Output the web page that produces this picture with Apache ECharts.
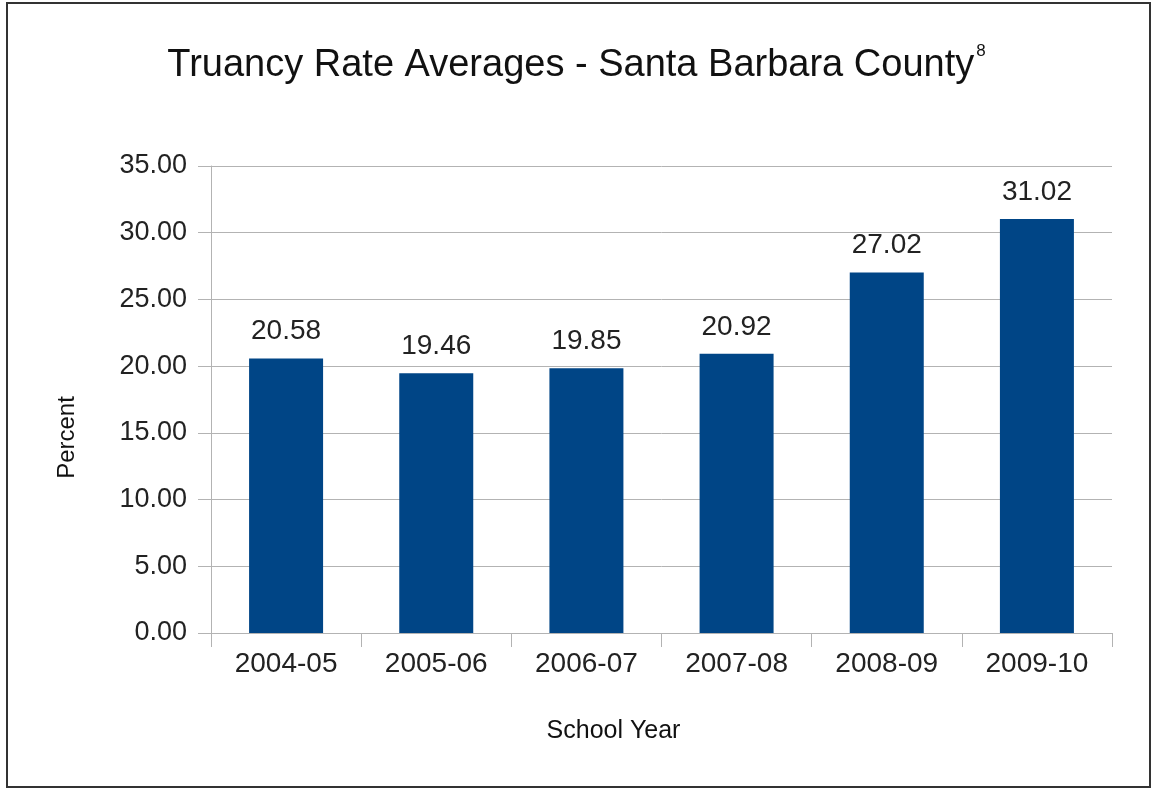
<!DOCTYPE html>
<html>
<head>
<meta charset="utf-8">
<script src="https://cdn.jsdelivr.net/npm/echarts@6/dist/echarts.min.js"></script>
<style>
html,body{margin:0;padding:0;background:#fff;}
#chart{width:1153px;height:788px;}
</style>
</head>
<body>
<div id="chart"></div>
<script>
const categories = ['2004-05', '2005-06', '2006-07', '2007-08', '2008-09', '2009-10'];
const truancyRates = [20.58, 19.46, 19.85, 20.92, 27.02, 31.02];
const titleText = 'Truancy Rate Averages - Santa Barbara County';
const titleNote = '8';
const xAxisName = 'School Year';
const yAxisName = 'Percent';

const font = '"Liberation Sans", Arial, sans-serif';
const chart = echarts.init(document.getElementById('chart'));
chart.setOption({
  backgroundColor: '#ffffff',
  animation: false,
  title: {
    text: '{a|' + titleText + '}{s|' + titleNote + '}',
    left: 'center',
    top: 38,
    textStyle: {
      rich: {
        a: { fontFamily: font, fontSize: 38, fontWeight: 'normal', color: '#111', lineHeight: 46 },
        s: { fontFamily: font, fontSize: 17, fontWeight: 'normal', color: '#111', verticalAlign: 'top', lineHeight: 46, padding: [0, 0, 0, 2] }
      }
    }
  },
  graphic: [{
    type: 'rect',
    shape: { x: 7, y: 3, width: 1143, height: 784 },
    style: { fill: 'none', stroke: '#333', lineWidth: 2 },
    silent: true,
    z: 100
  }],
  grid: { left: 211, right: 41, top: 166, bottom: 155, containLabel: false },
  xAxis: {
    type: 'category',
    data: categories,
    name: xAxisName,
    nameLocation: 'middle',
    nameGap: 86,
    nameTextStyle: { fontFamily: font, fontSize: 25, color: '#111', padding: [0, 96, 0, 0] },
    axisLine: { show: true, lineStyle: { color: '#b3b3b3', width: 1 } },
    axisTick: { show: true, length: 14, lineStyle: { color: '#b3b3b3' } },
    axisLabel: { fontFamily: font, fontSize: 28, color: '#222', margin: 17 },
    splitLine: { show: false }
  },
  yAxis: {
    type: 'value',
    min: 0,
    max: 35,
    interval: 5,
    name: yAxisName,
    nameLocation: 'middle',
    nameGap: 132,
    nameRotate: 90,
    nameTextStyle: { fontFamily: font, fontSize: 24, color: '#111', padding: [0, 76, 0, 0] },
    axisLine: { show: true, lineStyle: { color: '#b3b3b3', width: 1 } },
    axisTick: { show: true, length: 13, lineStyle: { color: '#b3b3b3' } },
    axisLabel: { fontFamily: font, fontSize: 27, color: '#222', margin: 24, formatter: v => v.toFixed(2) },
    splitLine: { show: true, lineStyle: { color: '#b3b3b3', width: 1 } }
  },
  series: [{
    type: 'bar',
    data: truancyRates,
    barWidth: 74,
    itemStyle: { color: '#004586' },
    label: {
      show: true,
      position: 'top',
      distance: 13,
      fontFamily: font,
      fontSize: 28,
      color: '#222',
      formatter: p => p.value.toFixed(2)
    }
  }]
});
</script>
</body>
</html>
